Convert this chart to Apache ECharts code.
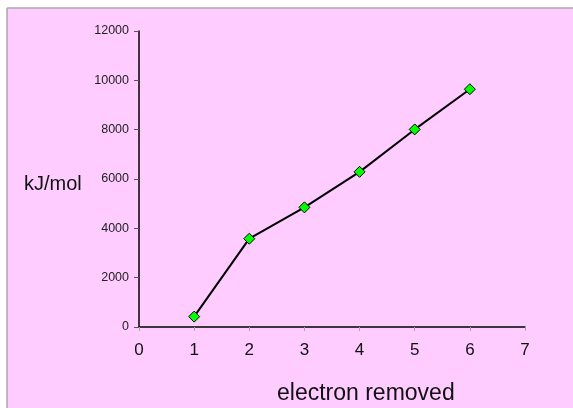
<!DOCTYPE html>
<html><head><meta charset="utf-8">
<script src="https://cdn.jsdelivr.net/npm/echarts@6/dist/echarts.min.js"></script>
<style>html,body{margin:0;padding:0;background:#fff}#c{width:573px;height:408px}</style>
</head><body><div id="c"></div>
<script>
const xValues = [1, 2, 3, 4, 5, 6];
const energies = [420, 3580, 4850, 6290, 8010, 9640];
const yTicks = [0, 2000, 4000, 6000, 8000, 10000, 12000];
const xTicks = [0, 1, 2, 3, 4, 5, 6, 7];
const yTitle = 'kJ/mol';
const xTitle = 'electron removed';

const chart = echarts.init(document.getElementById('c'));
const font = '"Liberation Sans", Arial, sans-serif';
chart.setOption({
  animation: false,
  backgroundColor: '#ffffff',
  graphic: [
    { type: 'rect', z: -10, shape: { x: 7, y: 8, width: 566, height: 400 }, style: { fill: '#FFCCFF' } },
    { type: 'line', z: -9, shape: { x1: 7, y1: 8, x2: 573, y2: 8 }, style: { stroke: '#a8a8a8', lineWidth: 1.5 } },
    { type: 'line', z: -9, shape: { x1: 7, y1: 8, x2: 7, y2: 408 }, style: { stroke: '#a8a8a8', lineWidth: 1.5 } },
    { type: 'text', z: 10, x: 24, y: 184, style: { text: yTitle, font: '20px ' + font, fill: '#111', verticalAlign: 'middle', align: 'left' } },
    { type: 'text', z: 10, x: 277, y: 394, style: { text: xTitle, font: '23px ' + font, fill: '#111', verticalAlign: 'middle', align: 'left' } }
  ],
  grid: { left: 139, top: 31, right: 48, bottom: 81 },
  xAxis: {
    type: 'value', min: xTicks[0], max: xTicks[xTicks.length - 1], interval: 1,
    axisLine: { lineStyle: { color: '#000', width: 1.5 } },
    axisTick: { show: true, length: 4, lineStyle: { color: '#aaa' } },
    splitLine: { show: false },
    axisLabel: { fontFamily: font, fontSize: 17, color: '#111', margin: 15 }
  },
  yAxis: {
    type: 'value', min: yTicks[0], max: yTicks[yTicks.length - 1], interval: 2000,
    axisLine: { show: true, lineStyle: { color: '#000', width: 1.5 } },
    axisTick: { show: true, length: 5, lineStyle: { color: '#555' } },
    splitLine: { show: false },
    axisLabel: { fontFamily: font, fontSize: 12.5, color: '#222', margin: 10, formatter: v => String(v) }
  },
  series: [{
    type: 'line',
    data: xValues.map((x, i) => [x, energies[i]]),
    lineStyle: { color: '#000', width: 2 },
    symbol: 'diamond', symbolSize: 11,
    itemStyle: { color: '#00FF00', borderColor: '#000', borderWidth: 1 }
  }]
});
</script></body></html>
